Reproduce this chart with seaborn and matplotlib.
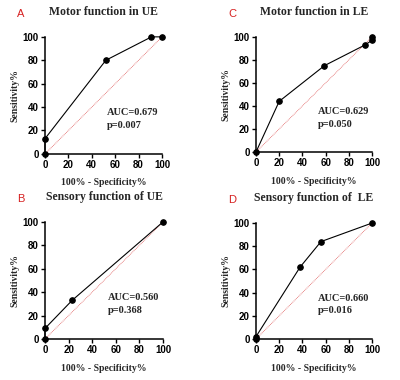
import matplotlib
matplotlib.use("Agg")
import matplotlib.pyplot as plt
import seaborn as sns
import pandas as pd

# --- Data ---
a_x = [0, 0, 52, 91, 100]
a_y = [0, 13, 80, 100, 100]
c_x = [0, 20, 59, 94, 100, 100]
c_y = [0, 44, 75, 93, 97, 100]
b_x = [0, 0, 23, 100]
b_y = [0, 9, 33, 100]
d_x = [0, 0, 38, 56, 100]
d_y = [0, 2, 62, 84, 100]

panels = [
    ("A", "Motor function in UE", a_x, a_y, "AUC=0.679", "p=0.007"),
    ("C", "Motor function in LE", c_x, c_y, "AUC=0.629", "p=0.050"),
    ("B", "Sensory function of UE", b_x, b_y, "AUC=0.560", "p=0.368"),
    ("D", "Sensory function of  LE", d_x, d_y, "AUC=0.660", "p=0.016"),
]
ticks = [0, 20, 40, 60, 80, 100]

# axes rectangles in figure fractions
rects = [
    [0.1125, 0.595, 0.2925, 0.308],
    [0.64, 0.60, 0.29, 0.303],
    [0.1125, 0.108, 0.295, 0.308],
    [0.64, 0.108, 0.29, 0.305],
]

sns.set_style("ticks")
plt.rcParams['font.family'] = ['Liberation Serif', 'DejaVu Serif']

fig = plt.figure(figsize=(4, 3.8), dpi=100)

for (letter, title, xs, ys, auc, pval), rect in zip(panels, rects):
    ax = fig.add_axes(rect)
    df = pd.DataFrame({"x": xs, "y": ys})
    # chance line
    sns.lineplot(x=[0, 100], y=[0, 100], ax=ax, color="#e06060", lw=0.6,
                 linestyle=(0, (1, 1)))
    sns.lineplot(data=df, x="x", y="y", ax=ax, sort=False, estimator=None,
                 color="black", lw=0.8, marker="o", markersize=4,
                 markeredgecolor="black", clip_on=False, zorder=5)
    ax.set_xlim(0, 100)
    ax.set_ylim(0, 100)
    ax.set_xticks(ticks)
    ax.set_yticks(ticks)
    for lab in ax.get_xticklabels() + ax.get_yticklabels():
        lab.set_fontfamily("Liberation Sans")
        lab.set_fontweight("bold")
        lab.set_fontsize(7)
    ax.tick_params(length=3, width=1, pad=1.5, colors="black")
    for s in ["left", "bottom"]:
        ax.spines[s].set_linewidth(1.1)
        ax.spines[s].set_color("black")
    sns.despine(ax=ax)
    ax.set_xlabel("100% - Specificity%", fontsize=7, fontweight="bold", labelpad=6)
    ax.set_ylabel("Sensitivity%", fontsize=7, fontweight="bold", labelpad=2)
    ax.set_title(title, fontsize=8.5, fontweight="bold", pad=16)
    ax.text(53, 33, auc, fontsize=7.5, fontweight="bold", transform=ax.transData)
    ax.text(53, 22, pval, fontsize=7.5, fontweight="bold", transform=ax.transData)
    pos = ax.get_position()
    fig.text(pos.x0 - 0.07, pos.y1 + 0.06, letter, color="#d62020",
             fontsize=8, family="Liberation Sans", va="center")

fig.savefig("out.png", dpi=100)
